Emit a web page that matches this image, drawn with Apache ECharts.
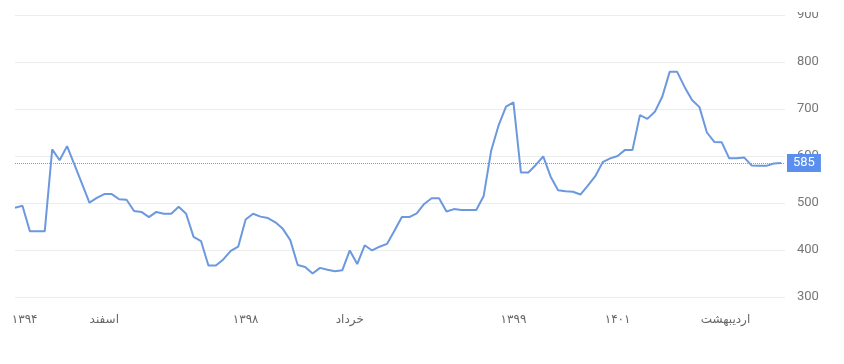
<!DOCTYPE html>
<html><head><meta charset="utf-8">
<script src="https://cdn.jsdelivr.net/npm/echarts@6/dist/echarts.min.js"></script>
<style>html,body{margin:0;padding:0;background:#fff}#c{width:844px;height:364px}</style>
</head><body><div id="c"></div>
<script>
var values = [490,494,440,440,440,614,591,621,581,541,501,511,519,519,508,507,483,481,470,481,477,477,492,477,428,419,367,367,380,398,407,465,477,471,468,459,445,421,368,364,350,362,358,355,357,399,370,410,399,407,413,441,470,470,478,498,510,510,482,487,485,485,485,515,611,665,705,714,565,565,581,599,556,527,525,524,518,537,557,587,595,600,613,613,687,679,694,726,779,779,747,719,704,650,630,629,595,595,597,580,579,579,584,585];
var tickPositions = [1.3, 12, 31, 45, 67, 81, 95.5];
var tickLabels = ['۱۳۹۴', 'اسفند', '۱۳۹۸', 'خرداد', '۱۳۹۹', '۱۴۰۱', 'اردیبهشت'];
var yTicks = [300, 400, 500, 600, 700, 800, 900];
var lastValue = 585;

var seriesData = values.map(function (v, i) { return [i, v]; });
var chart = echarts.init(document.getElementById('c'));
var FONT = "Roboto, 'DejaVu Sans', sans-serif";
chart.setOption({
  animation: false,
  grid: { left: 15, right: 59, top: 15, bottom: 67 },
  xAxis: {
    type: 'value', min: 0, max: 103.5,
    axisLine: { show: false }, axisTick: { show: false }, splitLine: { show: false },
    axisLabel: {
      customValues: tickPositions,
      margin: 17, color: '#666', fontSize: 12, fontFamily: FONT,
      formatter: function (val) {
        var k = tickPositions.indexOf(val);
        return k >= 0 ? tickLabels[k] : '';
      }
    }
  },
  yAxis: {
    type: 'value', position: 'right', min: yTicks[0], max: yTicks[yTicks.length - 1], interval: 100,
    axisLine: { show: false }, axisTick: { show: false },
    splitLine: { lineStyle: { color: '#ececec', width: 1 } },
    axisLabel: { margin: 12, color: '#777', fontSize: 13, fontFamily: FONT }
  },
  series: [{
    type: 'line', data: seriesData, symbol: 'none',
    lineStyle: { color: '#6b98de', width: 2 },
    markLine: {
      silent: true, symbol: 'none',
      lineStyle: { type: 'dotted', color: '#7f9cc4', width: 1 },
      label: {
        position: 'end', distance: 2, color: '#fff', fontSize: 13, fontFamily: FONT,
        backgroundColor: '#5a8ff0', padding: [3, 6, 2, 6],
        formatter: function () { return String(lastValue); }
      },
      data: [{ yAxis: lastValue }]
    }
  }],
  graphic: [{ type: 'rect', z: 100, shape: { x: 786, y: 0, width: 58, height: 12 }, style: { fill: '#fff' } }]
});
</script></body></html>
